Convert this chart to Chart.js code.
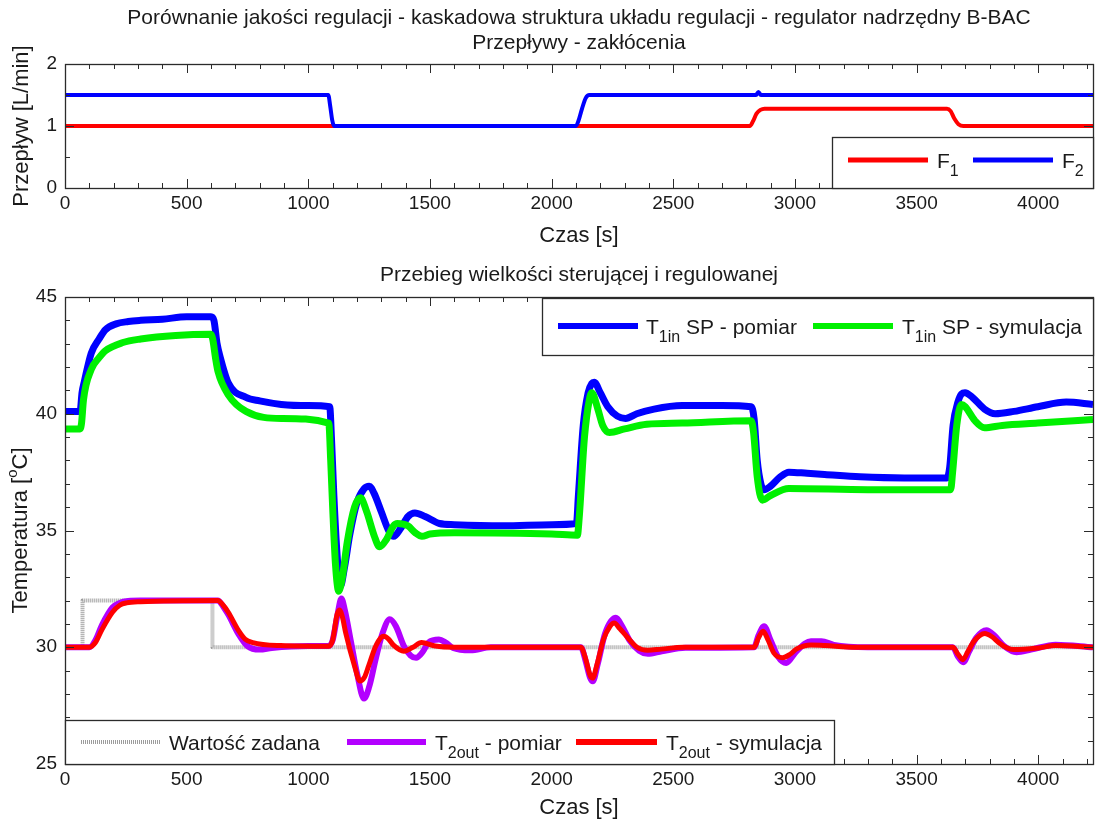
<!DOCTYPE html>
<html>
<head>
<meta charset="utf-8">
<script src="https://cdn.jsdelivr.net/npm/chart.js@4/dist/chart.umd.min.js"></script>
<style>
  html, body { margin: 0; padding: 0; background: #fff; }
  #wrap { position: relative; width: 1097px; height: 831px; }
  canvas { position: absolute; left: 0; }
</style>
</head>
<body>
<div id="wrap">
  <canvas id="flow" width="1097" height="255" style="top:0"></canvas>
  <canvas id="temp" width="1097" height="576" style="top:255px"></canvas>
</div>
<script>
// ---- Flow disturbances [L/min] ----
const f1Time = [0, 2815, 2828, 2842, 2858, 2875, 3625, 3640, 3655, 3672, 3692, 4225];
const f1Val  = [1.0, 1.0, 1.08, 1.2, 1.26, 1.28, 1.28, 1.24, 1.12, 1.03, 1.0, 1.0];
const f2Time = [0, 1082, 1090, 1098, 1106, 2100, 2110, 2125, 2140, 2155, 2840, 2850, 2860, 4225];
const f2Val  = [1.5, 1.5, 1.32, 1.1, 1.0, 1.0, 1.08, 1.28, 1.45, 1.5, 1.5, 1.55, 1.5, 1.5];

// ---- T1in set-point, measured ----
const t1mTime = [0, 62, 70, 80, 108, 140, 166, 210, 260, 311, 400, 500, 600, 612, 625, 636, 672, 744, 800, 889, 1000, 1088,
  1095, 1105, 1118, 1131, 1150, 1170, 1200, 1230, 1250, 1270, 1300, 1330, 1351, 1380, 1410, 1438, 1480, 1539, 1600, 1800, 2000, 2102,
  2110, 2130, 2150, 2165, 2175, 2200, 2231, 2270, 2304, 2350, 2421, 2537, 2700, 2820,
  2832, 2845, 2860, 2873, 2900, 2940, 2975, 3050, 3122, 3267, 3450, 3625,
  3636, 3650, 3670, 3685, 3699, 3730, 3779, 3823, 3900, 3998, 4115, 4225];
const t1mVal  = [40.1, 40.1, 40.9, 41.4, 42.6, 43.2, 43.6, 43.85, 43.95, 44.0, 44.05, 44.15, 44.15, 44.0, 43.0, 42.5, 41.3, 40.7, 40.55, 40.4, 40.35, 40.3,
  39.0, 36.5, 34.0, 32.6, 33.5, 34.8, 36.2, 36.8, 36.9, 36.6, 35.8, 35.0, 34.75, 35.1, 35.6, 35.75, 35.6, 35.3, 35.25, 35.2, 35.25, 35.3,
  36.5, 39.5, 40.9, 41.3, 41.35, 40.9, 40.3, 39.9, 39.8, 40.0, 40.2, 40.35, 40.35, 40.3,
  39.8, 38.0, 37.0, 36.75, 36.9, 37.3, 37.5, 37.45, 37.4, 37.3, 37.25, 37.25,
  37.7, 39.5, 40.5, 40.85, 40.9, 40.7, 40.2, 40.0, 40.1, 40.3, 40.5, 40.4];

// ---- T1in set-point, simulated ----
const t1sTime = [0, 62, 68, 76, 108, 140, 166, 238, 311, 455, 600, 607, 620, 629, 672, 744, 889, 1084,
  1092, 1100, 1112, 1125, 1140, 1160, 1190, 1214, 1240, 1270, 1293, 1320, 1350, 1366, 1409, 1440, 1467, 1500, 1600, 2000, 2106,
  2113, 2135, 2155, 2165, 2190, 2210, 2238, 2300, 2391, 2537, 2820,
  2830, 2845, 2866, 2900, 2975, 3300, 3640,
  3648, 3665, 3684, 3700, 3740, 3779, 3852, 3998, 4225];
const t1sVal  = [39.35, 39.35, 39.6, 40.6, 41.9, 42.4, 42.7, 43.05, 43.2, 43.35, 43.4, 43.2, 42.3, 41.8, 40.8, 40.1, 39.8, 39.6,
  38.0, 36.0, 33.5, 32.4, 33.0, 34.5, 36.0, 36.4, 35.8, 34.8, 34.3, 34.6, 35.2, 35.3, 35.2, 34.9, 34.75, 34.85, 34.9, 34.85, 34.8,
  35.5, 39.0, 40.6, 40.9, 40.2, 39.5, 39.2, 39.35, 39.55, 39.6, 39.7,
  39.2, 37.3, 36.3, 36.5, 36.8, 36.75, 36.75,
  37.5, 39.5, 40.4, 40.3, 39.7, 39.4, 39.5, 39.6, 39.75];

// ---- T2out set-point ----
const spTime = [0, 72, 72, 606, 606, 4225];
const spVal  = [30, 30, 32, 32, 30, 30];

// ---- T2out, measured ----
const t2mTime = [0, 100, 125, 152, 195, 225, 260, 310, 628, 650, 671, 714, 750, 800, 850, 1000, 1082,
  1100, 1120, 1136, 1150, 1176, 1200, 1229, 1250, 1277, 1305, 1335, 1360, 1393, 1420, 1443, 1470, 1494, 1537, 1565, 1595, 1667, 1750, 2120,
  2140, 2158, 2169, 2190, 2220, 2264, 2290, 2320, 2360, 2395, 2453, 2550, 2832,
  2850, 2873, 2900, 2930, 2964, 3000, 3040, 3066, 3109, 3160, 3300, 3649,
  3670, 3692, 3715, 3745, 3787, 3820, 3860, 3911, 3970, 4071, 4225];
const t2mVal  = [30.0, 30.0, 30.3, 30.95, 31.7, 31.9, 31.98, 32.0, 32.0, 31.75, 31.4, 30.55, 30.05, 29.9, 29.97, 30.05, 30.05,
  30.3, 31.4, 32.09, 31.6, 30.2, 28.9, 27.8, 28.3, 29.5, 30.6, 31.2, 30.9, 30.05, 29.65, 29.55, 29.8, 30.2, 30.33, 30.2, 29.97, 29.87, 30.0, 30.0,
  29.4, 28.7, 28.54, 29.3, 30.6, 31.26, 30.9, 30.3, 29.85, 29.72, 29.83, 29.98, 30.0,
  30.5, 30.9, 30.3, 29.6, 29.33, 29.75, 30.15, 30.26, 30.26, 30.1, 30.0, 30.0,
  29.6, 29.36, 29.8, 30.4, 30.73, 30.5, 30.05, 29.79, 29.9, 30.11, 30.0];

// ---- T2out, simulated ----
const t2sTime = [0, 100, 125, 152, 195, 225, 253, 310, 628, 650, 671, 714, 740, 772, 887, 1082,
  1100, 1118, 1128, 1140, 1154, 1190, 1212, 1230, 1248, 1275, 1299, 1310, 1330, 1349, 1393, 1430, 1465, 1522, 1600, 2120,
  2140, 2158, 2169, 2185, 2213, 2240, 2257, 2280, 2308, 2351, 2395, 2450, 2541, 2832,
  2850, 2869, 2890, 2913, 2949, 2980, 3007, 3066, 3124, 3250, 3649,
  3670, 3690, 3710, 3736, 3780, 3810, 3838, 3870, 3897, 3999, 4071, 4225];
const t2sVal  = [30.0, 30.0, 30.2, 30.76, 31.5, 31.8, 31.9, 31.95, 32.0, 31.8, 31.5, 30.7, 30.35, 30.2, 30.07, 30.04,
  30.3, 31.4, 31.6, 31.3, 30.6, 29.2, 28.55, 28.7, 29.2, 30.0, 30.42, 30.47, 30.35, 30.1, 29.83, 30.0, 30.2, 30.05, 30.0, 30.0,
  29.5, 28.8, 28.68, 29.2, 30.33, 30.9, 31.04, 30.8, 30.47, 30.0, 29.87, 29.92, 30.0, 30.0,
  30.4, 30.69, 30.3, 29.76, 29.55, 29.7, 29.93, 30.1, 30.07, 30.0, 30.0,
  29.7, 29.47, 29.8, 30.26, 30.59, 30.45, 30.19, 29.98, 29.9, 29.97, 30.07, 30.0];

// ---- Axis ticks ----
const timeTicks = [0, 500, 1000, 1500, 2000, 2500, 3000, 3500, 4000];
const flowTicks = [0, 1, 2];
const tempTicks = [25, 30, 35, 40, 45];

// ---- Texts (main, subscript, tail) ----
const flowLegend = [['F', '1', ''], ['F', '2', '']];
const tempLegendTop = [['T', '1in', ' SP - pomiar'], ['T', '1in', ' SP - symulacja']];
const tempLegendBottom = [['Wartość zadana', '', ''], ['T', '2out', ' - pomiar'], ['T', '2out', ' - symulacja']];

const FONT = "'Liberation Sans', Arial, Helvetica, sans-serif";
const INK = '#1a1a1a';

const pts = (t, v) => t.map((x, i) => ({ x, y: v[i] }));

function richText(ctx, x, y, main, sub, tail, size, align) {
  const subSize = Math.round(size * 0.75);
  ctx.font = size + 'px ' + FONT;
  const w1 = ctx.measureText(main).width;
  const w3 = ctx.measureText(tail).width;
  ctx.font = subSize + 'px ' + FONT;
  const w2 = sub ? ctx.measureText(sub).width : 0;
  const total = w1 + w2 + w3;
  let cx = align === 'center' ? x - total / 2 : x;
  ctx.textAlign = 'left';
  ctx.textBaseline = 'alphabetic';
  ctx.fillStyle = INK;
  ctx.font = size + 'px ' + FONT;
  ctx.fillText(main, cx, y);
  cx += w1;
  if (sub) {
    ctx.font = subSize + 'px ' + FONT;
    ctx.fillText(sub, cx, y + size * 0.38);
    cx += w2;
  }
  ctx.font = size + 'px ' + FONT;
  ctx.fillText(tail, cx, y);
}

// Box frame with inward major/minor ticks on all four sides, plus titles and legends
const frameTicks = {
  id: 'frameTicks',
  afterDatasetsDraw(chart, args, o) {
    const { ctx, chartArea: a, scales: { x, y } } = chart;
    ctx.save();
    ctx.strokeStyle = '#2b2b2b';
    ctx.lineWidth = 1;
    ctx.beginPath();
    const nx = Math.round((x.max - x.min) / o.xMinor);
    for (let k = 0; k <= nx; k++) {
      const v = x.min + k * o.xMinor;
      const px = Math.round(x.getPixelForValue(v)) + 0.5;
      const len = (Math.abs(v % o.xMajor) < 1e-6) ? 9 : 5;
      ctx.moveTo(px, a.bottom); ctx.lineTo(px, a.bottom - len);
      ctx.moveTo(px, a.top); ctx.lineTo(px, a.top + len);
    }
    const ny = Math.round((y.max - y.min) / o.yMinor);
    for (let k = 0; k <= ny; k++) {
      const v = y.min + k * o.yMinor;
      const py = Math.round(y.getPixelForValue(v)) + 0.5;
      const r = (v - y.min) / o.yMajor;
      const len = (Math.abs(r - Math.round(r)) < 1e-6) ? 9 : 5;
      ctx.moveTo(a.left, py); ctx.lineTo(a.left + len, py);
      ctx.moveTo(a.right, py); ctx.lineTo(a.right - len, py);
    }
    ctx.stroke();
    ctx.lineWidth = 1.3;
    ctx.strokeRect(Math.round(a.left) + 0.5, Math.round(a.top) + 0.5, Math.round(a.right - a.left), Math.round(a.bottom - a.top));
    ctx.restore();
  },
  afterDraw(chart, args, o) {
    const ctx = chart.ctx;
    const a = chart.chartArea;
    ctx.save();
    // titles
    ctx.fillStyle = INK;
    ctx.textAlign = 'center';
    ctx.textBaseline = 'middle';
    ctx.font = o.titleSize + 'px ' + FONT;
    const cx = (a.left + a.right) / 2;
    o.titles.forEach((t, i) => ctx.fillText(t, cx, o.titleY + i * o.titleGap));
    // x title
    ctx.font = o.axisSize + 'px ' + FONT;
    ctx.fillText('Czas [s]', cx, o.xTitleY);
    // y title (rotated)
    ctx.save();
    ctx.translate(o.yTitleX, (a.top + a.bottom) / 2);
    ctx.rotate(-Math.PI / 2);
    if (o.yTitleSup) {
      const s = o.axisSize, ss = Math.round(s * 0.7);
      ctx.font = s + 'px ' + FONT;
      const w1 = ctx.measureText(o.yTitle[0]).width, w3 = ctx.measureText(o.yTitle[2]).width;
      ctx.font = ss + 'px ' + FONT;
      const w2 = ctx.measureText(o.yTitle[1]).width;
      let px = -(w1 + w2 + w3) / 2;
      ctx.textAlign = 'left';
      ctx.font = s + 'px ' + FONT; ctx.fillText(o.yTitle[0], px, 0); px += w1;
      ctx.font = ss + 'px ' + FONT; ctx.fillText(o.yTitle[1], px, -s * 0.35); px += w2;
      ctx.font = s + 'px ' + FONT; ctx.fillText(o.yTitle[2], px, 0);
    } else {
      ctx.fillText(o.yTitle, 0, 0);
    }
    ctx.restore();
    // legends
    o.legends.forEach(L => {
      ctx.fillStyle = '#fff';
      ctx.fillRect(L.box[0], L.box[1], L.box[2] - L.box[0], L.box[3] - L.box[1]);
      ctx.strokeStyle = '#2b2b2b';
      ctx.lineWidth = 1.3;
      ctx.strokeRect(L.box[0] + 0.5, L.box[1] + 0.5, L.box[2] - L.box[0], L.box[3] - L.box[1]);
      L.items.forEach((it, i) => {
        const ds = chart.data.datasets[it.ds];
        ctx.save();
        ctx.strokeStyle = ds.borderColor;
        ctx.lineWidth = it.lw || 5;
        ctx.setLineDash(ds.borderDash || []);
        ctx.beginPath();
        ctx.moveTo(it.x0, L.lineY); ctx.lineTo(it.x1, L.lineY);
        ctx.stroke();
        ctx.restore();
        const t = L.texts[i];
        richText(ctx, it.tx, L.lineY + L.size * 0.36, t[0], t[1], t[2], L.size, 'left');
      });
    });
    ctx.restore();
  }
};

const xScale = (min, max) => ({
  type: 'linear', min, max,
  grid: { display: false, drawTicks: false }, border: { display: false },
  afterBuildTicks: s => { s.ticks = timeTicks.map(v => ({ value: v })); },
  afterFit: s => { s.height = 67; },
  ticks: { color: INK, font: { family: FONT, size: 19 }, padding: 4, maxRotation: 0, autoSkip: false, callback: v => String(v) }
});
const yScale = (min, max, tk) => ({
  type: 'linear', min, max,
  grid: { display: false, drawTicks: false }, border: { display: false },
  afterBuildTicks: s => { s.ticks = tk.map(v => ({ value: v })); },
  afterFit: s => { s.width = 65; },
  ticks: { color: INK, font: { family: FONT, size: 19 }, padding: 8, callback: v => String(v) }
});

const line = (label, data, color, width, order, extra) => Object.assign({
  label, data, borderColor: color, backgroundColor: color, borderWidth: width,
  pointRadius: 0, fill: false, order, cubicInterpolationMode: 'monotone', borderJoinStyle: 'round', borderCapStyle: 'butt'
}, extra || {});

// ---- Upper chart: flows ----
new Chart(document.getElementById('flow'), {
  type: 'line',
  data: {
    datasets: [
      line('F1', pts(f1Time, f1Val), '#ff0000', 4, 2),
      line('F2', pts(f2Time, f2Val), '#0000ff', 4, 1)
    ]
  },
  options: {
    responsive: false, animation: false, events: [],
    layout: { padding: { top: 64, right: 4, left: 0, bottom: 0 } },
    scales: { x: xScale(0, 4225), y: yScale(0, 2, flowTicks) },
    plugins: {
      legend: { display: false }, tooltip: { enabled: false },
      frameTicks: {
        xMinor: 100, xMajor: 500, yMinor: 0.5, yMajor: 1,
        titles: ['Porównanie jakości regulacji - kaskadowa struktura układu regulacji - regulator nadrzędny B-BAC', 'Przepływy - zakłócenia'],
        titleY: 18, titleGap: 25, titleSize: 21,
        axisSize: 22, xTitleY: 236, yTitleX: 22, yTitle: 'Przepływ [L/min]',
        legends: [{
          box: [832, 137, 1093, 188], lineY: 160, size: 21, texts: flowLegend,
          items: [{ ds: 0, x0: 848, x1: 928, tx: 937, lw: 5 }, { ds: 1, x0: 973, x1: 1053, tx: 1062, lw: 5 }]
        }]
      }
    }
  },
  plugins: [frameTicks]
});

// ---- Lower chart: temperatures ----
new Chart(document.getElementById('temp'), {
  type: 'line',
  data: {
    datasets: [
      line('T1in SP - pomiar', pts(t1mTime, t1mVal), '#0000ff', 7, 5),
      line('T1in SP - symulacja', pts(t1sTime, t1sVal), '#00f000', 7, 4),
      line('Wartość zadana', pts(spTime, spVal), '#9c9c9c', 4, 6, { cubicInterpolationMode: 'default', tension: 0, borderDash: [1, 1] }),
      line('T2out - pomiar', pts(t2mTime, t2mVal), '#b300ff', 6, 3),
      line('T2out - symulacja', pts(t2sTime, t2sVal), '#ff0000', 5, 2)
    ]
  },
  options: {
    responsive: false, animation: false, events: [],
    layout: { padding: { top: 42, right: 4, left: 0, bottom: 0 } },
    scales: { x: xScale(0, 4225), y: yScale(25, 45, tempTicks) },
    plugins: {
      legend: { display: false }, tooltip: { enabled: false },
      frameTicks: {
        xMinor: 100, xMajor: 500, yMinor: 1, yMajor: 5,
        titles: ['Przebieg wielkości sterującej i regulowanej'],
        titleY: 20, titleGap: 25, titleSize: 21,
        axisSize: 22, xTitleY: 553, yTitleX: 21, yTitleSup: true, yTitle: ['Temperatura [', 'o', 'C]'],
        legends: [
          {
            box: [542, 43, 1093, 100], lineY: 71, size: 21, texts: tempLegendTop,
            items: [{ ds: 0, x0: 558, x1: 638, tx: 646, lw: 6 }, { ds: 1, x0: 813, x1: 893, tx: 902, lw: 6 }]
          },
          {
            box: [65, 465, 834, 509], lineY: 487, size: 21, texts: tempLegendBottom,
            items: [{ ds: 2, x0: 81, x1: 161, tx: 169, lw: 4 }, { ds: 3, x0: 347, x1: 426, tx: 435, lw: 6 }, { ds: 4, x0: 576, x1: 657, tx: 666, lw: 6 }]
          }
        ]
      }
    }
  },
  plugins: [frameTicks]
});
</script>
</body>
</html>
